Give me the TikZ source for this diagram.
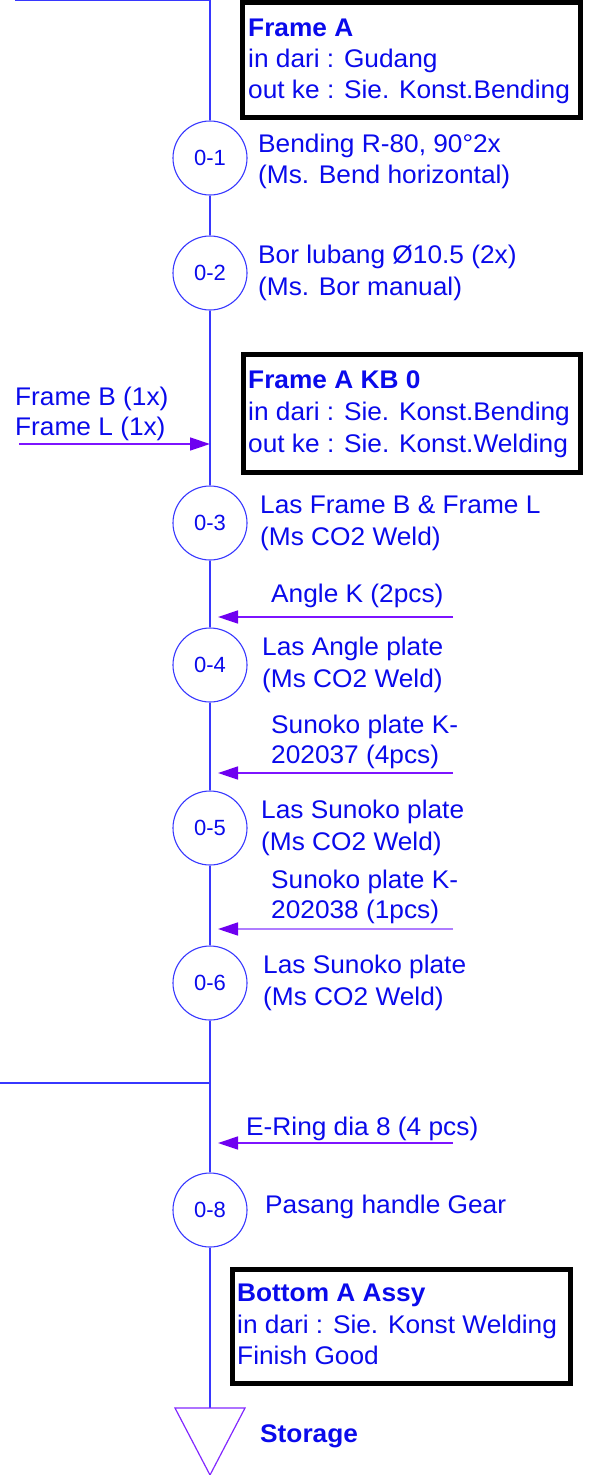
\documentclass[tikz,border=0pt]{standalone}
\usepackage{fontspec}
\setmainfont{Liberation Sans}[FakeStretch=1.03]
\newfontfamily\plainsans{Liberation Sans}
\usetikzlibrary{arrows.meta}
\definecolor{txtblue}{RGB}{10,10,235}
\definecolor{lineblue}{RGB}{55,55,255}
\definecolor{feedpurple}{RGB}{125,20,255}
\definecolor{headpurple}{RGB}{110,0,240}
\definecolor{lightpurple}{RGB}{175,125,255}
\definecolor{tripurple}{RGB}{130,40,255}
\begin{document}
\begin{tikzpicture}[x=1pt,y=-1pt,
  lbl/.style={anchor=base west, inner sep=0pt, text=txtblue, font=\fontsize{25.5}{30}\selectfont},
  ttl/.style={lbl, font=\fontsize{25.5}{30}\selectfont\bfseries},
  proc/.style={circle, draw=lineblue, line width=1.1pt, minimum size=74pt, inner sep=0pt, text=txtblue, font=\plainsans\fontsize{22}{26}\selectfont},
  framebox/.style={draw=black, line width=5pt, inner sep=0pt},
  flow/.style={draw=lineblue, line width=1.1pt},
  feed/.style={draw=feedpurple, line width=1.5pt, -{Triangle[length=20pt,width=13pt,color=headpurple]}},
  feedlight/.style={feed, draw=lightpurple}
]
\useasboundingbox (0,0) rectangle (592,1475);

% frame boxes
\node[framebox, minimum width=338pt, minimum height=115pt] (b1) at (411.5,60) {};
\node[framebox, minimum width=337.5pt, minimum height=118pt] (b2) at (411.75,413.5) {};
\node[framebox, minimum width=338pt, minimum height=114pt] (b3) at (401.5,1326.5) {};

\node[ttl] (b1t) at (248,36) {Frame A};
\node[lbl] (b1a) at (248,67) {in dari : Gudang};
\node[lbl] (b1b) at (248,98) {out ke : Sie. Konst.Bending};

\node[ttl] (b2t) at (248,388) {Frame A KB 0};
\node[lbl] (b2a) at (248,420) {in dari : Sie. Konst.Bending};
\node[lbl] (b2b) at (248,452) {out ke : Sie. Konst.Welding};

\node[ttl] (b3t) at (237,1301) {Bottom A Assy};
\node[lbl] (b3a) at (237,1333) {in dari : Sie. Konst Welding};
\node[lbl] (b3b) at (237,1364) {Finish Good};

% process circles
\node[proc] (p1) at (210,158) {0-1};
\node[proc] (p2) at (210,273) {0-2};
\node[proc] (p3) at (210,523) {0-3};
\node[proc] (p4) at (210,665) {0-4};
\node[proc] (p5) at (210,828) {0-5};
\node[proc] (p6) at (210,983) {0-6};
\node[proc] (p8) at (210,1210) {0-8};

% process labels
\node[lbl] (l1a) at (258,152) {Bending R-80, 90°2x};
\node[lbl] (l1b) at (258,183) {(Ms. Bend horizontal)};
\node[lbl] (l2a) at (258,263) {Bor lubang Ø10.5 (2x)};
\node[lbl] (l2b) at (258,295) {(Ms. Bor manual)};
\node[lbl] (l3a) at (260,513) {Las Frame B \& Frame L};
\node[lbl] (l3b) at (260,545) {(Ms CO2 Weld)};
\node[lbl] (l4a) at (262,655) {Las Angle plate};
\node[lbl] (l4b) at (262,687) {(Ms CO2 Weld)};
\node[lbl] (l5a) at (261,818) {Las Sunoko plate};
\node[lbl] (l5b) at (261,850) {(Ms CO2 Weld)};
\node[lbl] (l6a) at (263,973) {Las Sunoko plate};
\node[lbl] (l6b) at (263,1005) {(Ms CO2 Weld)};
\node[lbl] (l8a) at (265,1213) {Pasang handle Gear};

% main flow line
\coordinate (tl) at (15,0);
\coordinate (tr) at (210,0);
\coordinate (jl) at (0,1083);
\coordinate (jr) at (210,1083);
\coordinate (st) at (210,1408);
\draw[flow] (tl) -- (tr) -- (p1);
\draw[flow] (p1) -- (p2);
\draw[flow] (p2) -- (p3);
\draw[flow] (p3) -- (p4);
\draw[flow] (p4) -- (p5);
\draw[flow] (p5) -- (p6);
\draw[flow] (p6) -- (p8);
\draw[flow] (jl) -- (jr);
\draw[flow] (p8) -- (st);

% storage
\coordinate (sl) at (175,1408);
\coordinate (sr) at (245,1408);
\coordinate (sb) at (210,1475);
\draw[draw=tripurple, line width=1.2pt, fill=white, line join=miter] (sl) -- (sr) -- (sb) -- cycle;
\node[ttl] (stl) at (260,1442) {Storage};

% feed arrows
\coordinate (f0s) at (19,444);  \coordinate (f0e) at (210,444);
\node[lbl] (f0a) at (15,405) {Frame B (1x)};
\node[lbl] (f0b) at (15,435) {Frame L (1x)};
\draw[feed] (f0s) -- (f0e);

\coordinate (f1s) at (453,617); \coordinate (f1e) at (218,617);
\node[lbl] (f1a) at (271,602) {Angle K (2pcs)};
\draw[feed] (f1s) -- (f1e);

\coordinate (f2s) at (453,773); \coordinate (f2e) at (218,773);
\node[lbl] (f2a) at (271,733) {Sunoko plate K-};
\node[lbl] (f2b) at (271,763) {202037 (4pcs)};
\draw[feed] (f2s) -- (f2e);

\coordinate (f3s) at (453,929); \coordinate (f3e) at (218,929);
\node[lbl] (f3a) at (271,888) {Sunoko plate K-};
\node[lbl] (f3b) at (271,918) {202038 (1pcs)};
\draw[feedlight] (f3s) -- (f3e);

\coordinate (f4s) at (453,1143); \coordinate (f4e) at (218,1143);
\node[lbl] (f4a) at (246,1135) {E-Ring dia 8 (4 pcs)};
\draw[feed] (f4s) -- (f4e);
\end{tikzpicture}
\end{document}
